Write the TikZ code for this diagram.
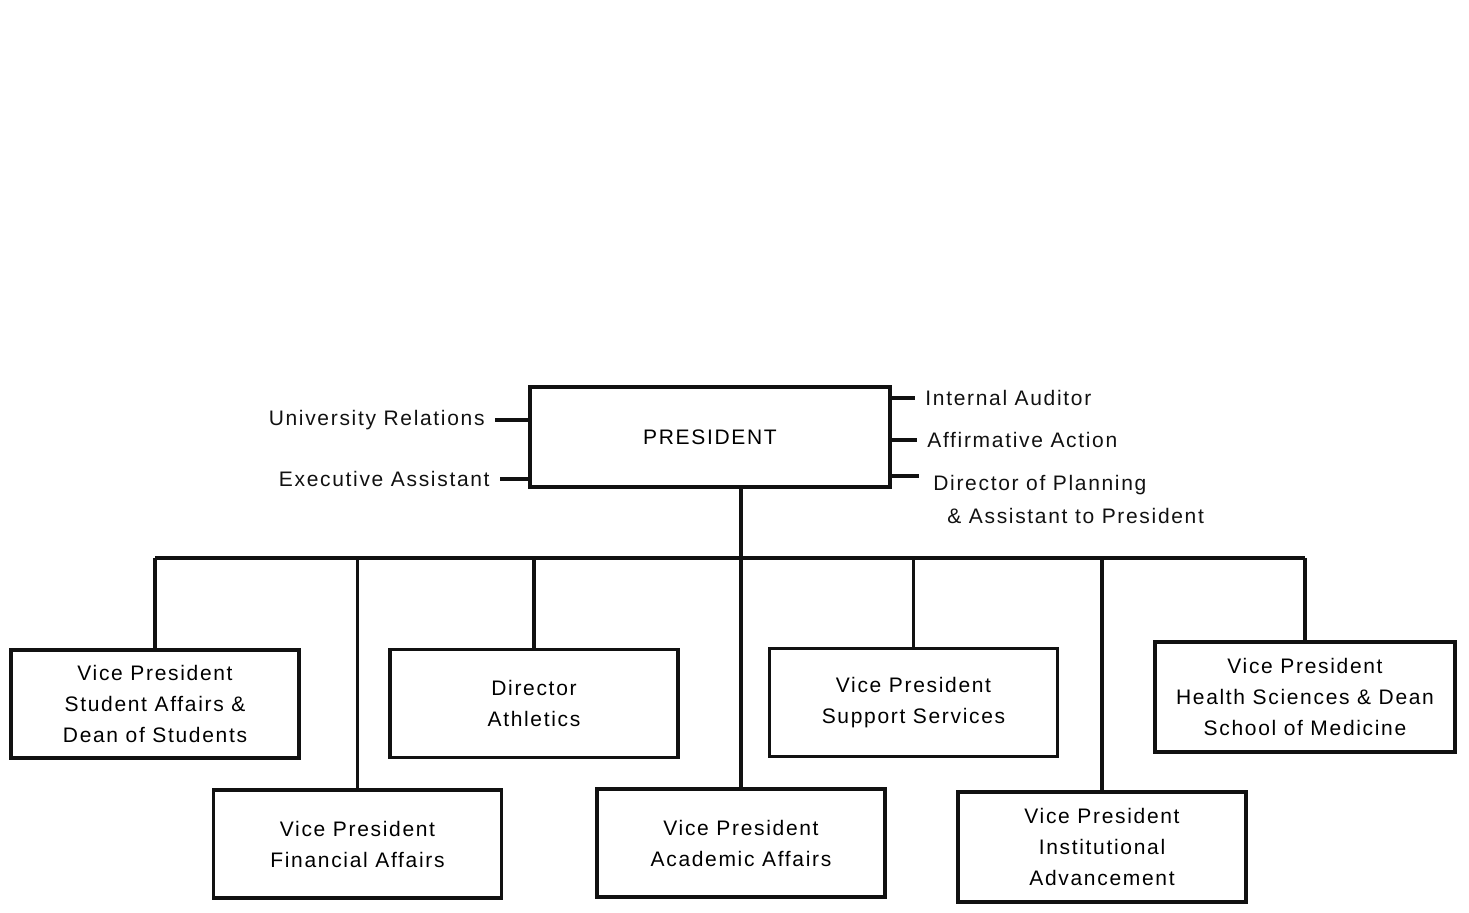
\documentclass[tikz,border=0pt]{standalone}
\usepackage{fontspec}
\setmainfont{Liberation Sans}[LetterSpace=8]
\usepackage{tikz}
\usetikzlibrary{positioning,calc}
\definecolor{ink}{HTML}{111111}

\begin{document}
\begin{tikzpicture}[x=0.5pt, y=-0.5pt,
  box/.style={draw=ink, line width=1.6pt, align=center, minimum width=144pt, minimum height=54pt,
    font=\fontsize{10.5}{15.5}\selectfont, inner sep=2pt},
  lbl/.style={font=\fontsize{10.5}{16.5}\selectfont, text=ink, inner xsep=5pt, inner ysep=1pt},
  e/.style={draw=ink, line width=1.6pt}
]
\useasboundingbox (0,0) rectangle (1469,912);
\node[box, minimum width=180pt, minimum height=50pt] (pres) at (710,437) {PRESIDENT};
\node[lbl, anchor=east] (ur) at (495,420) {University Relations};
\node[lbl, anchor=east] (ea) at (500,479) {Executive Assistant};
\node[lbl, anchor=west] (ia2) at (915,398) {Internal Auditor};
\node[lbl, anchor=west] (aff) at (917,440) {Affirmative Action};
\node[lbl, anchor=west, align=left] (dp) at (923,499) {Director of Planning\\\hspace*{7pt}\& Assistant to President};
\node[box] (sa) at (155,704)   {Vice President\\Student Affairs \&\\Dean of Students};
\node[box] (fa) at (357.5,844) {Vice President\\Financial Affairs};
\node[box] (at) at (534,703.5) {Director\\Athletics};
\node[box] (aa) at (741,843)   {Vice President\\Academic Affairs};
\node[box] (ss) at (913.5,702.5) {Vice President\\Support Services};
\node[box, minimum height=55pt] (ia) at (1102,847) {Vice President\\Institutional\\Advancement};
\node[box, minimum width=150pt, minimum height=55pt] (hs) at (1305,697) {Vice President\\Health Sciences \& Dean\\School of Medicine};
\coordinate (bus) at (0,558);
\draw[e] (ur.east) -- (ur.east -| pres.west);
\draw[e] (ea.east) -- (ea.east -| pres.west);
\draw[e] (pres.east |- ia2.west) -- (ia2.west);
\draw[e] (pres.east |- aff.west) -- (aff.west);
\draw[e] (pres.east |- 0,476) -- ([xshift=-2pt]dp.west |- 0,476);
\draw[e] (aa.north |- pres.south) -- (aa.north);
\draw[e] (sa.north |- bus) -- (hs.north |- bus);
\foreach \b in {sa,fa,at,ss,ia,hs}
  \draw[e] (\b.north) -- (\b.north |- bus);
\end{tikzpicture}
\end{document}
